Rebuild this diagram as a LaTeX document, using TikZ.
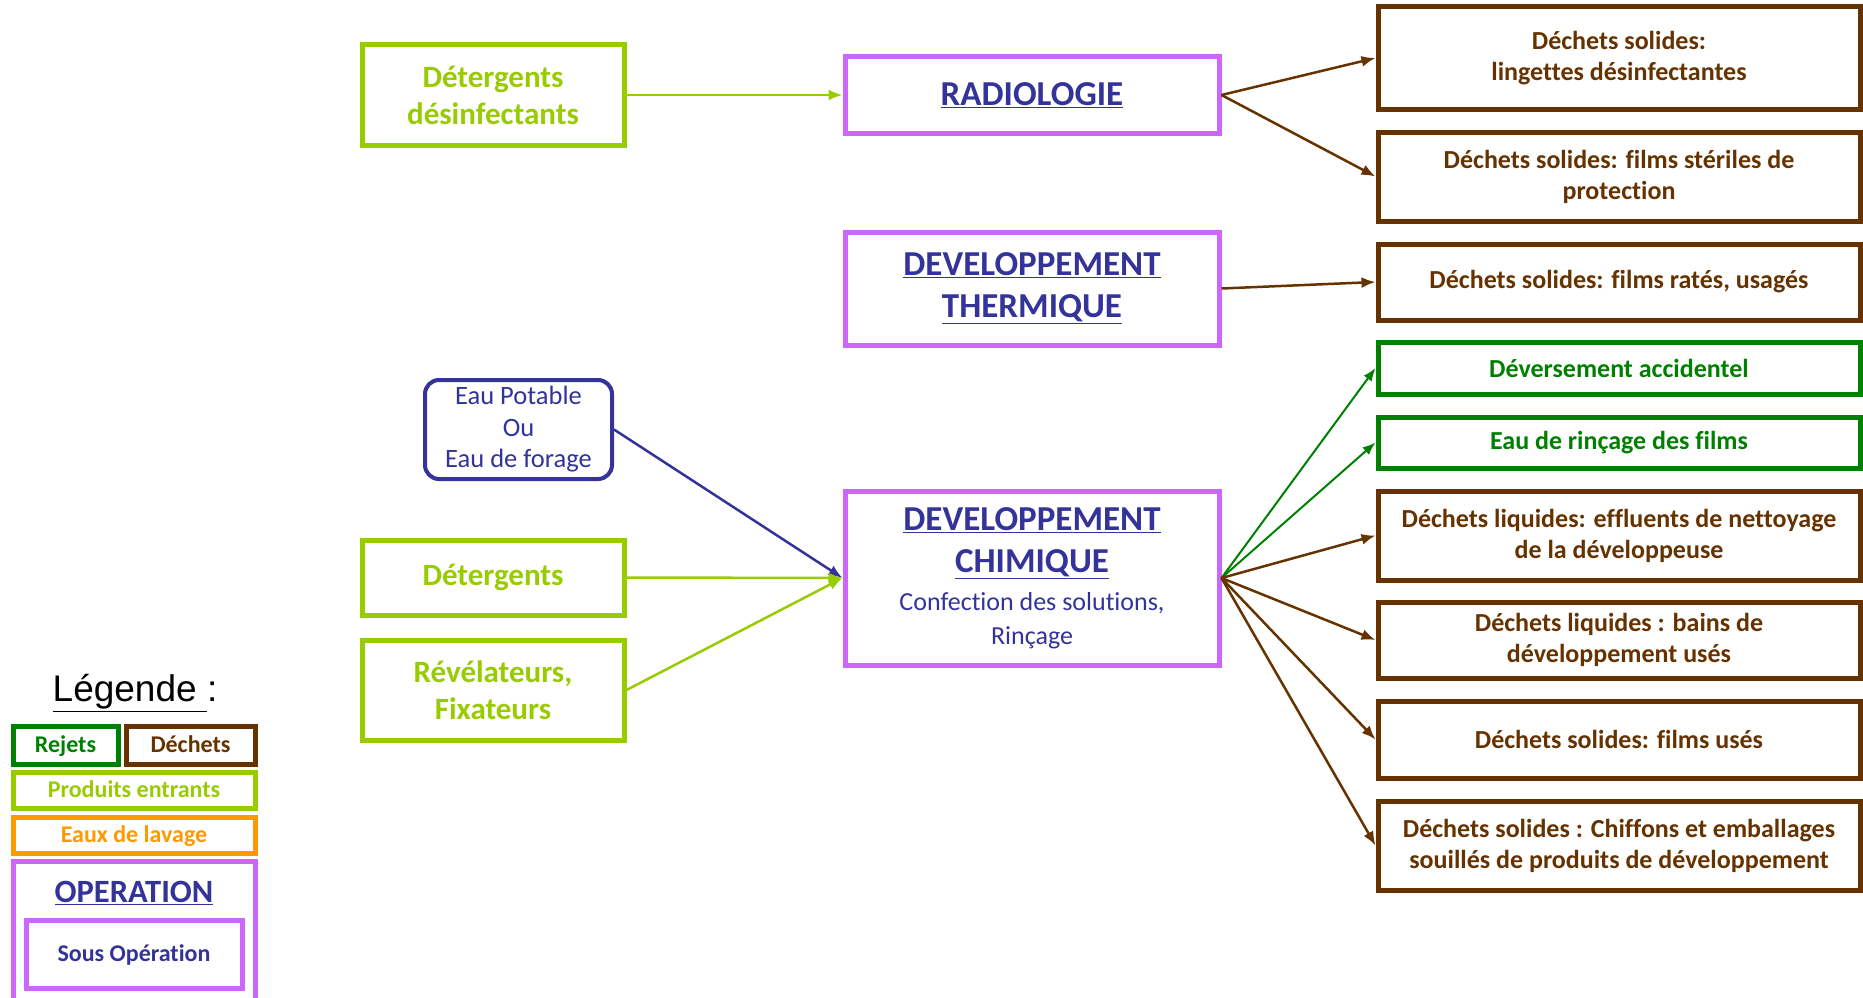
\documentclass[tikz,border=0pt]{standalone}
\usepackage{fontspec}
\setmainfont[Ligatures=NoCommon]{Carlito}
\newfontfamily\legendfont{Liberation Sans}
\usetikzlibrary{arrows.meta}
\definecolor{RXGreen}{HTML}{008000}
\definecolor{RXBrown}{HTML}{663300}
\definecolor{RXLime}{HTML}{99CC00}
\definecolor{RXOrange}{HTML}{FF9900}
\definecolor{RXViolet}{HTML}{CC66FF}
\definecolor{RXNavy}{HTML}{333399}
\tikzset{
  rxbox/.style={
    draw,
    fill=white,
    line width=5pt,
    align=center,
    inner sep=0pt,
    font=\bfseries\fontsize{26}{31}\selectfont
  },
  rxinput/.style={rxbox,draw=RXLime,text=RXLime,font=\bfseries\fontsize{31}{37}\selectfont},
  rxwaste/.style={rxbox,draw=RXBrown,text=RXBrown},
  rxreject/.style={rxbox,draw=RXGreen,text=RXGreen},
  rxop/.style={rxbox,draw=RXViolet,text=RXNavy,font=\bfseries\fontsize{35}{42}\selectfont},
  rxwater/.style={
    draw=RXNavy,
    fill=white,
    line width=4pt,
    rounded corners=14pt,
    align=center,
    inner sep=0pt,
    text=RXNavy,
    font=\fontsize{26.5}{31.5}\selectfont
  },
  rxkey/.style={rxbox,text height=16pt,text depth=2pt,font=\bfseries\fontsize{24}{28}\selectfont},
  rxflow/.style={-{Latex[length=14pt,width=11pt]},line width=2.5pt},
  rxthinflow/.style={-{Latex[length=13pt,width=10pt]},line width=2pt}
}

\begin{document}
\begin{tikzpicture}[x=1pt,y=-1pt]
  \useasboundingbox (0,0) rectangle (1863,998);
  % entrants
  \node[rxinput,minimum width=262pt,minimum height=100pt] (detdes) at (493,95) {Détergents\\désinfectants};
  \node[rxwater,minimum width=187pt,minimum height=99pt] (eau) at (518.5,429.5) {Eau Potable\\Ou\\Eau de forage};
  \node[rxinput,minimum width=262pt,minimum height=75pt] (det) at (493,577.5) {Détergents};
  \node[rxinput,minimum width=262pt,minimum height=100pt] (revel) at (493,690) {Révélateurs,\\Fixateurs};
  % operations
  \node[rxop,minimum width=374pt,minimum height=76pt] (radio) at (1032,95) {\underline{RADIOLOGIE}};
  \node[rxop,minimum width=374pt,minimum height=113pt] (thermo) at (1032,288.5) {\underline{DEVELOPPEMENT}\\\underline{THERMIQUE}};
  \node[rxop,minimum width=374pt,minimum height=174pt] (chim) at (1032,578) {\underline{DEVELOPPEMENT}\\\underline{CHIMIQUE}\\[-4pt]{\mdseries\fontsize{26}{32}\selectfont Confection des solutions,}\\[-8pt]{\mdseries\fontsize{26}{32}\selectfont Rinçage}};
  % sorties
  \node[rxwaste,minimum width=482pt,minimum height=102pt] (out1) at (1619,58) {Déchets solides:\\lingettes désinfectantes};
  \node[rxwaste,minimum width=482pt,minimum height=89pt] (out2) at (1619,176.5) {Déchets solides: films stériles de\\protection};
  \node[rxwaste,minimum width=482pt,minimum height=76pt] (out3) at (1619,282) {Déchets solides: films ratés, usagés};
  \node[rxreject,minimum width=482pt,minimum height=52pt] (out4) at (1619,368) {Déversement accidentel};
  \node[rxreject,minimum width=482pt,minimum height=51pt] (out5) at (1619,442.5) {Eau de rinçage des films};
  \node[rxwaste,minimum width=482pt,minimum height=89pt] (out6) at (1619,535.5) {Déchets liquides: effluents de nettoyage\\de la développeuse};
  \node[rxwaste,minimum width=482pt,minimum height=76pt] (out7) at (1619,640) {Déchets liquides : bains de\\développement usés};
  \node[rxwaste,minimum width=482pt,minimum height=77pt] (out8) at (1619,739.5) {Déchets solides: films usés};
  \node[rxwaste,minimum width=482pt,minimum height=89pt] (out9) at (1619,845.5) {Déchets solides : Chiffons et emballages\\souillés de produits de développement};
  % fleches
  \draw[rxflow,RXLime] (detdes.east) -- (radio.west);
  \draw[rxflow,RXNavy] (eau.east) -- (chim.west);
  \draw[rxflow,RXLime] (det.east) -- (chim.west);
  \draw[rxflow,RXLime] (revel.east) -- (chim.west);
  \draw[rxflow,RXBrown] (radio.east) -- (out1.west);
  \draw[rxflow,RXBrown] (radio.east) -- (out2.west);
  \draw[rxflow,RXBrown] (thermo.east) -- (out3.west);
  \draw[rxthinflow,RXGreen] (chim.east) -- (out4.west);
  \draw[rxthinflow,RXGreen] (chim.east) -- (out5.west);
  \draw[rxflow,RXBrown] (chim.east) -- (out6.west);
  \draw[rxflow,RXBrown] (chim.east) -- (out7.west);
  \draw[rxflow,RXBrown] (chim.east) -- (out8.west);
  \draw[rxflow,RXBrown] (chim.east) -- (out9.west);
  % legende
  \node[font=\legendfont\fontsize{37}{44}\selectfont] (legtitle) at (135,693) {\underline{Légende\ }:};
  \node[rxkey,draw=RXGreen,text=RXGreen,minimum width=105pt,minimum height=38pt] (keyrej) at (65.5,745) {Rejets};
  \node[rxkey,draw=RXBrown,text=RXBrown,minimum width=129pt,minimum height=38pt] (keydech) at (190.5,745) {Déchets};
  \node[rxkey,draw=RXLime,text=RXLime,minimum width=242pt,minimum height=36pt] (keyprod) at (134,790) {Produits entrants};
  \node[rxkey,draw=RXOrange,text=RXOrange,minimum width=242pt,minimum height=36pt] (keylav) at (134,835) {Eaux de lavage};
  \node[rxkey,draw=RXViolet,minimum width=242pt,minimum height=140pt] (keyop) at (134,931) {};
  \node[text=RXNavy,font=\bfseries\fontsize{32.5}{38}\selectfont] (keyoptxt) at (134,893) {\underline{OPERATION}};
  \node[rxkey,draw=RXViolet,text=RXNavy,minimum width=216pt,minimum height=68pt] (keysous) at (134,954) {Sous Opération};
\end{tikzpicture}
\end{document}
